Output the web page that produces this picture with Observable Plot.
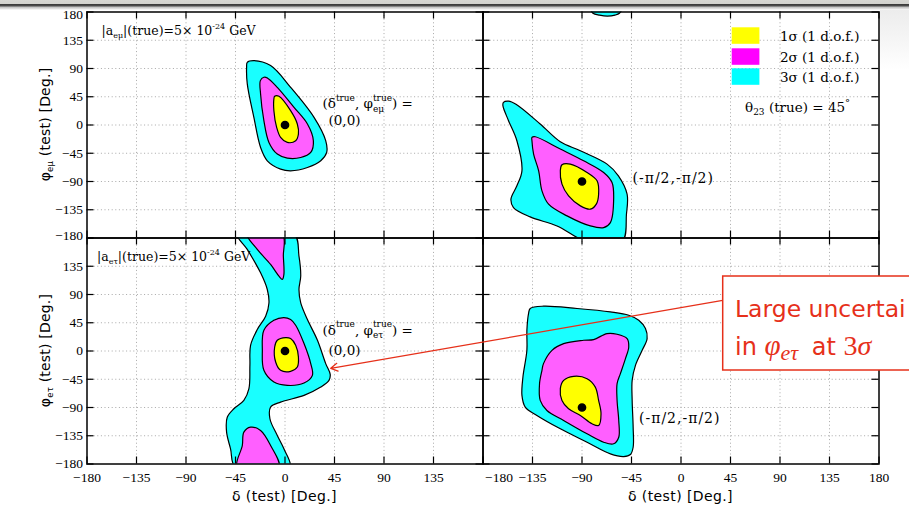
<!DOCTYPE html>
<html><head><meta charset="utf-8">
<script src="https://cdn.jsdelivr.net/npm/d3@7"></script>
<script src="https://cdn.jsdelivr.net/npm/@observablehq/plot@0.6"></script>
<style>
html,body{margin:0;padding:0;background:#fff;}
#wrap{position:relative;width:909px;height:508px;overflow:hidden;background:#fff;}
#band{position:absolute;left:0;top:0;width:909px;height:10px;
 background:linear-gradient(#d6d6d2 0px,#d2d2ce 3.5px,#3c3c3c 4.5px,#505050 6px,#bdbdbd 7px,#e6e6e6 9px,#fff 10px);}
#shade{position:absolute;left:880px;top:10px;width:29px;height:60px;
 background:linear-gradient(#ececec,#fff);}
</style></head><body><div id="wrap"><div id="band"></div><div id="shade"></div></div>
<script>
// ---------- data (degrees) ----------
const tickValues = [-180,-135,-90,-45,0,45,90,135,180];
const gridValues = [-135,-90,-45,0,45,90,135];
const levelNames = ["1σ (1 d.o.f.)","2σ (1 d.o.f.)","3σ (1 d.o.f.)"];

// top-left: phi_emu, true (0,0)
const tlCyan = [[-34.3,99.9],[-28.3,102.6],[-13.1,94.6],[5.1,60],[26.4,12.1],[37,-25],[37.9,-43.7],[32.5,-57],[20.4,-67.7],[5.1,-73],[-4,-70.2],[-16.1,-57],[-22.2,-35.8],[-28.3,12.1],[-34.3,65.5],[-34.9,92]];
const tlMag = [[-19.2,76],[-16.1,75],[-7,60],[8.2,28.1],[20.4,1.6],[25.8,-25.1],[23.4,-43.7],[14.3,-51.7],[2.1,-52.7],[-7,-46.3],[-14.6,-27.8],[-19.2,6.9],[-22.2,49.5],[-22.4,70.7]];
const tlYel = [[-9.4,45.7],[-5.5,45.7],[5.1,22.8],[11.2,1.6],[12.2,-14.4],[9.7,-25.1],[2.1,-27.8],[-4,-19.8],[-7.6,-3.8],[-10.1,22.8],[-10.1,41.5]];
const tlTrue = [[0,0]];

// top-right: phi_emu, true (-90,-90)
const trCyan = [[-161.4,36.1],[-156.8,38],[-150,33],[-128,1.6],[-109.7,-26.7],[-91.5,-41],[-67.2,-62.3],[-56.9,-80.9],[-49,-110.2],[-49.6,-142.1],[-53.6,-186],[-85.4,-186],[-112.7,-160.8],[-137.1,-146.4],[-152.3,-131.5],[-154.6,-118.1],[-149.2,-96.9],[-144.6,-73],[-149.2,-25.1],[-156.8,6.9],[-161.9,30.8]];
const trCyanTop = [[-82,186],[-80,178],[-74,175],[-67,173.5],[-60,175],[-56,178],[-54,186]];
const trMag = [[-135.5,-19.8],[-132.5,-18.7],[-109.7,-38.3],[-88.5,-57],[-70.3,-75.7],[-62.7,-91.6],[-61.2,-115.6],[-64.2,-155.5],[-70.3,-163.5],[-82.4,-160.8],[-103.6,-144.8],[-120.4,-126.1],[-126.4,-104.9],[-129.4,-73],[-134,-46.3],[-135.5,-25.1]];
const trYel = [[-108.2,-63.4],[-100.6,-62.3],[-85.4,-75.7],[-76.3,-88.9],[-74.9,-110.2],[-77,-126.1],[-82.4,-134.1],[-91.5,-128.8],[-102.2,-112.9],[-108.2,-94.2],[-109.7,-73]];
const trTrue = [[-90,-90]];

// bottom-left: phi_etau, true (0,0)
const blCyan = [[-43.4,186],[8.2,186],[12.7,151.2],[14.3,119.3],[12.7,98],[14.3,76.6],[20.4,50.1],[29.5,17.1],[37,-20.1],[41.1,-37.2],[40,-46.8],[32.5,-57.5],[17.3,-70.7],[-4,-81.4],[-13.1,-89.4],[-13.7,-107.9],[-7,-134.6],[-1,-155.8],[4.5,-186],[-44.9,-186],[-49.5,-155.8],[-53.1,-129.3],[-52.5,-105.4],[-46.5,-92],[-37.4,-78.7],[-32.8,-60],[-31.9,-22.8],[-31.3,9.1],[-25.2,34.2],[-17.6,55.4],[-14.6,76.6],[-16.1,98],[-22.2,124.5],[-34.3,161.8]];
const blMagTop = [[-34.3,186],[-25.2,161.9],[-13.1,137.9],[-5.5,119.3],[-2.4,114],[-1,122],[-1.5,151.2],[-2.4,186]];
const blMagBottom = [[-31.3,-121.3],[-37.4,-129.3],[-38.8,-150.5],[-43.4,-186],[-5.5,-186],[-13.1,-150.5],[-22.2,-126.6]];
const blMag = [[-1,53.3],[-10.1,49],[-19.2,33],[-20.6,1.1],[-19.2,-30.8],[-10.1,-49.5],[2.1,-54.8],[17.3,-51.1],[24.9,-38.8],[23.4,-20.1],[17.3,11.8],[9.7,41],[5.1,50.1]];
const blYel = [[0.6,21.4],[-7,17.1],[-9.4,6.4],[-8.5,-17.6],[-4,-30.8],[5.1,-32.4],[11.2,-25.5],[12.2,-9.6],[9.7,9.1],[5.1,19.8]];
const blTrue = [[0,0]];

// bottom-right: phi_etau, true (-90,-90)
const brCyan = [[-137.1,67.7],[-125,71.4],[-94.5,67.7],[-64.2,62.3],[-47.5,57],[-38.4,49],[-32.3,35.8],[-30.8,19.8],[-35.3,1.1],[-41.4,-22.8],[-44.4,-46.8],[-44.4,-78.7],[-43.5,-121.3],[-43.5,-153.3],[-46,-164.9],[-52.1,-168.1],[-64.2,-163.8],[-85.4,-145.3],[-109.7,-123.9],[-131,-102.6],[-141.6,-89.4],[-144.6,-70.7],[-143.7,-41.5],[-140.1,1.1],[-140.1,33],[-138.6,59.7]];
const brMag = [[-125,-20.1],[-117.3,1.1],[-106.7,11.8],[-88.5,17.1],[-79.4,18.2],[-67.2,27.8],[-58.1,26.7],[-49,19.8],[-47.5,6.4],[-50.5,-12.1],[-55.1,-36.1],[-58.1,-52],[-58.1,-78.7],[-56.6,-110.6],[-56.6,-137.3],[-61.2,-147.8],[-70.3,-145.3],[-85.4,-131.9],[-106.7,-110.6],[-121.9,-94.7],[-128,-78.7],[-128.6,-52],[-126.4,-30.8]];
const brYel = [[-106.7,-46.8],[-97.6,-40.4],[-85.4,-44.1],[-77.9,-57.5],[-74.9,-78.7],[-72.7,-99.9],[-74.9,-118.6],[-80.9,-115.9],[-91.5,-102.6],[-102.2,-92],[-108.2,-78.7],[-109.7,-60]];
const brTrue = [[-90,-90]];

// annotation arrow (bottom-left panel coordinates, degrees)
const arrowStart = [399.2, 80.9];
const arrowEnd = [41.6, -27.6];

// ---------- styling ----------
const W = 909, H = 508;
const COLS = [[86.5,482.5],[482.5,878.5]];
const ROWS = [[11.5,237.5],[237.5,463.5]];
const YEL = "#ffff00", MAG = "#ff5fff", CYA = "#19ffff";
const SERIF = "'Liberation Serif', 'DejaVu Serif', serif";
const WSERIF = "'DejaVu Serif', serif";
const SANS = "'DejaVu Sans', sans-serif";
const RED = "#e6301a";
const minus = d => String(d).replace("-", "\u2212");

function shape(pts, fill) {
  return Plot.line(pts, {x: d => d[0], y: d => d[1], curve: "catmull-rom-closed",
    fill, stroke: "#000", strokeWidth: 1.2, clip: true});
}

function panel(col, row, layers, truth, axes, extra = []) {
  const [l, r] = COLS[col], [t, b] = ROWS[row];
  const tx = 7 / ((r - l) / 360), ty = 7 / ((b - t) / 360);
  const marks = [
    Plot.ruleX(gridValues, {x: d => d, stroke: "#a8a8a8", strokeWidth: 1, strokeDasharray: "1,2.6"}),
    Plot.ruleY(gridValues, {y: d => d, stroke: "#a8a8a8", strokeWidth: 1, strokeDasharray: "1,2.6"}),
    ...layers.map(([pts, fill]) => shape(pts, fill)),
    Plot.dot(truth, {x: d => d[0], y: d => d[1], r: 3.6, fill: "#000", stroke: "#000"}),
    Plot.ruleX(tickValues, {x: d => d, y1: 180, y2: 180 - ty, stroke: "#000", strokeWidth: 1.2}),
    Plot.ruleX(tickValues, {x: d => d, y1: -180, y2: -180 + ty, stroke: "#000", strokeWidth: 1.2}),
    Plot.ruleY(tickValues, {y: d => d, x1: -180, x2: -180 + tx, stroke: "#000", strokeWidth: 1.2}),
    Plot.ruleY(tickValues, {y: d => d, x1: 180, x2: 180 - tx, stroke: "#000", strokeWidth: 1.2}),
    Plot.frame({stroke: "#000", strokeWidth: 1.5}),
    ...axes.marks,
    ...extra
  ];
  const svg = Plot.plot({
    width: W, height: H,
    marginLeft: l, marginRight: W - r, marginTop: t, marginBottom: H - b,
    x: {domain: [-180, 180], ...(axes.x ? {} : {axis: null})},
    y: {domain: [-180, 180], ...(axes.y ? {} : {axis: null})},
    style: {background: "transparent", position: "absolute", left: "0px", top: "0px",
      fontFamily: SERIF, fontSize: "13.5px", color: "#000", overflow: "visible"},
    marks
  });
  document.getElementById("wrap").appendChild(svg);
}

const yAx = (ticks, o = {}) => Plot.axisY({ticks, anchor: "left", tickSize: 0, tickPadding: 4,
  tickFormat: minus, label: null, fill: "#000", ...o});
const xAx = (ticks, o = {}) => Plot.axisX({ticks, anchor: "bottom", tickSize: 0, tickPadding: 8,
  tickFormat: minus, label: null, fill: "#000", ...o});

// top-left
panel(0, 0, [[tlCyan, CYA], [tlMag, MAG], [tlYel, YEL]], tlTrue,
  {y: true, marks: [yAx([-135,-90,-45,0,45,90,135]), yAx([180], {dy: 3}), yAx([-180], {dy: -2.5})]});
// top-right
panel(1, 0, [[trCyan, CYA], [trCyanTop, CYA], [trMag, MAG], [trYel, YEL]], trTrue, {marks: []});
// bottom-right
panel(1, 1, [[brCyan, CYA], [brMag, MAG], [brYel, YEL]], brTrue,
  {x: true, marks: [xAx([-135,-90,-45,0,45,90,135,180]), xAx([-180], {dx: 16})]});
// bottom-left (with arrow drawn on top of everything)
panel(0, 1, [[blCyan, CYA], [blMagTop, MAG], [blMagBottom, MAG], [blMag, MAG], [blYel, YEL]], blTrue,
  {x: true, y: true, marks: [yAx([-180,-135,-90,-45,0,45,90,135]), xAx([-180,-135,-90,-45,0,45,90,135])]},
  [Plot.arrow([{a: arrowStart, b: arrowEnd}], {x1: d => d.a[0], y1: d => d.a[1], x2: d => d.b[0], y2: d => d.b[1],
    stroke: RED, strokeWidth: 1.3, headLength: 9})]);

// ---------- text overlay ----------
const overlay = d3.select("#wrap").append("svg")
  .attr("width", W).attr("height", H)
  .style("position", "absolute").style("left", "0px").style("top", "0px");

function rich(x, y, segs, o = {}) {
  const t = overlay.append("text").attr("x", x).attr("y", y)
    .attr("font-family", o.font || WSERIF).attr("font-size", o.size || 13)
    .attr("fill", o.fill || "#000");
  if (o.anchor) t.attr("text-anchor", o.anchor);
  if (o.transform) t.attr("transform", o.transform);
  if (o.spacing) t.attr("letter-spacing", o.spacing);
  let cur = 0, prev = null, resume = 0;
  for (const s of segs) {
    const [txt, shift = 0, size, ex = {}] = s;
    const ts = t.append("tspan").text(txt).attr("dy", shift - cur);
    cur = shift;
    if (size) ts.attr("font-size", size);
    if (ex.style) ts.attr("font-style", ex.style);
    if (ex.font) ts.attr("font-family", ex.font);
    if (ex.dx) ts.attr("dx", ex.dx);
    if (ex.stack && prev) {
      const pl = prev.node().getComputedTextLength();
      ts.attr("dx", -pl);
      const own = ts.node().getComputedTextLength();
      resume = Math.max(0, pl - own);
    } else if (resume) {
      ts.attr("dx", resume);
      resume = 0;
    }
    prev = ts;
  }
  return t;
}

// panel labels
rich(101.5, 34.5, [["|a"], ["eμ", 3, 8], ["|(true)=5× 10"], ["-24", -6, 8], [" GeV"]], {size: 12.5});
rich(97, 261, [["|a"], ["eτ", 3, 8], ["|(true)=5× 10"], ["-24", -6, 8], [" GeV"]], {size: 12.5});

rich(322.5, 108, [["(δ"], ["true", -7.5, 9], [", φ"], ["true", -7.5, 9], ["eμ", 3.5, 9, {stack: true}], [") ="]], {size: 13.5});
rich(328.5, 125, [["(0,0)"]], {size: 13.5});
rich(322.5, 334.5, [["(δ"], ["true", -7.5, 9], [", φ"], ["true", -7.5, 9], ["eτ", 3.5, 9, {stack: true}], [") ="]], {size: 13.5});
rich(328.5, 354.5, [["(0,0)"]], {size: 13.5});

rich(632.5, 183, [["(-π/2,-π/2)"]], {size: 14, spacing: 1});
rich(639, 423, [["(-π/2,-π/2)"]], {size: 14, spacing: 1});

// legend
const swY = [27.3, 48.3, 68.3], swC = ["#ffff00", "#ff00ff", "#00ffff"];
levelNames.forEach((name, i) => {
  overlay.append("rect").attr("x", 731.7).attr("y", swY[i]).attr("width", 27.7).attr("height", 16.5).attr("fill", swC[i]);
  rich(780, swY[i] + 14, [[name]], {size: 13.5});
});
rich(745, 111.5, [["θ"], ["23", 3.5, 9], [" (true) = 45"], ["°", -6, 10]], {size: 13.5});

// axis titles
rich(284.5, 500.5, [["δ (test) [Deg.]"]], {font: SANS, size: 14, anchor: "middle", spacing: 0.4});
rich(680.5, 500.5, [["δ (test) [Deg.]"]], {font: SANS, size: 14, anchor: "middle", spacing: 0.4});
rich(0, 0, [["φ"], ["eμ", 3.5, 8.5], [" (test) [Deg.]"]], {font: SANS, size: 14, anchor: "middle", spacing: 0.2, transform: "translate(49.5,124.5) rotate(-90)"});
rich(0, 0, [["φ"], ["eτ", 3.5, 8.5], [" (test) [Deg.]"]], {font: SANS, size: 14, anchor: "middle", spacing: 0.2, transform: "translate(49.5,350.5) rotate(-90)"});

// red callout
overlay.append("rect").attr("x", 722.7).attr("y", 276).attr("width", 300).attr("height", 94)
  .attr("fill", "#fff").attr("stroke", RED).attr("stroke-width", 1.5);
rich(735, 316.5, [["Large uncertai"]], {font: SANS, size: 23.5, fill: RED});
rich(735, 355, [["in "], ["φ", 0, 29, {font: SERIF, style: "italic"}], ["eτ", 5, 22, {font: SERIF, style: "italic"}],
  [" at ", 0, null, {dx: 6}], ["3", 0, 28, {font: SERIF}], ["σ", 0, 28, {font: SERIF, style: "italic"}]], {font: SANS, size: 24, fill: RED});
</script>
</body></html>
